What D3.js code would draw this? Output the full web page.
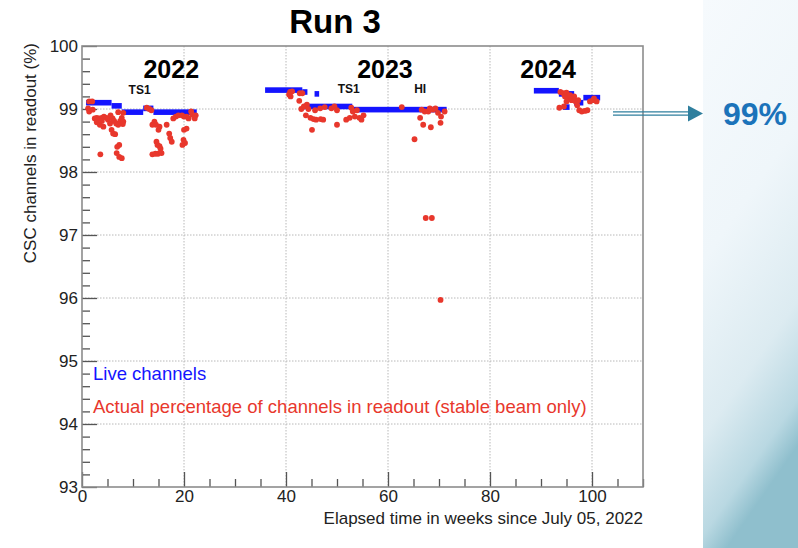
<!DOCTYPE html>
<html>
<head>
<meta charset="utf-8">
<script src="https://cdn.jsdelivr.net/npm/d3@7/dist/d3.min.js"></script>
<style>
  html, body { margin: 0; padding: 0; background: #fff; }
  svg { display: block; }
  text { font-family: "Liberation Sans", Arial, Helvetica, sans-serif; }
</style>
</head>
<body>
<svg id="chart" width="798" height="548"></svg>
<script>
// Live channel fraction: horizontal runs [start week, end week, percent]
const liveChannels = [
  [0.8, 5.8, 99.10],
  [5.8, 7.8, 99.05],
  [7.8, 12.0, 98.95],
  [12.0, 14.0, 99.01],
  [14.0, 22.5, 98.95],
  [35.9, 43.2, 99.30],
  [43.2, 44.2, 99.27],
  [45.6, 46.5, 99.24],
  [43.5, 53.0, 99.04],
  [53.0, 71.5, 98.99],
  [88.6, 93.5, 99.29],
  [93.5, 96.5, 99.24],
  [94.3, 95.6, 99.03],
  [96.5, 98.3, 99.10],
  [98.3, 101.6, 99.18]
];

// Percentage of channels in readout during stable beam: [week, percent]
const stableBeam = [
  // 2022
  [1.4, 99.12], [2.0, 99.12], [1.2, 99.01], [1.4, 98.96], [2.1, 98.99],
  [2.5, 98.85], [2.9, 98.86], [3.4, 98.85], [3.9, 98.86], [4.3, 98.88], [4.8, 98.86],
  [2.9, 98.79], [3.5, 98.75], [4.2, 98.72], [3.9, 98.81],
  [5.1, 98.83], [5.5, 98.77], [5.6, 98.90], [6.0, 98.85], [6.3, 98.81], [6.7, 98.77],
  [7.5, 98.81], [7.8, 98.86], [8.1, 98.80], [8.0, 98.76], [7.1, 98.75],
  [5.8, 98.67], [6.1, 98.61], [6.5, 98.60],
  [7.3, 98.43], [6.9, 98.40],
  [6.8, 98.30], [7.3, 98.24], [7.8, 98.22], [3.6, 98.28],
  [7.1, 98.95], [8.1, 98.94],
  [12.7, 99.02], [13.2, 99.00], [13.6, 98.98],
  [14.2, 98.80], [14.5, 98.75], [13.8, 98.75], [15.2, 98.72], [15.0, 98.67],
  [14.6, 98.48], [14.8, 98.43], [15.2, 98.41], [15.4, 98.37],
  [13.8, 98.28], [14.4, 98.29], [14.9, 98.29], [15.6, 98.30],
  [16.6, 98.75], [17.1, 98.61], [17.3, 98.54], [17.6, 98.48],
  [17.9, 98.85], [18.4, 98.88], [18.9, 98.90], [19.6, 98.90], [20.0, 98.88], [20.5, 98.88], [20.9, 98.85],
  [20.5, 98.69], [20.0, 98.67], [19.9, 98.51], [20.2, 98.46], [19.7, 98.43],
  [21.6, 98.91], [22.3, 98.90], [22.1, 98.85], [21.4, 98.96],
  // 2023
  [40.8, 99.27], [41.2, 99.28], [40.9, 99.20], [40.6, 99.23],
  [42.7, 99.25], [43.2, 99.25], [42.6, 99.13],
  [43.0, 99.00], [43.5, 99.04], [44.1, 99.07], [44.4, 99.00],
  [43.9, 98.90], [44.8, 98.86], [45.4, 98.84], [45.9, 98.83], [46.8, 98.84], [47.3, 98.83],
  [45.1, 98.67],
  [45.7, 98.98], [46.7, 99.01], [47.6, 99.03], [48.9, 99.01], [49.5, 99.04], [50.0, 98.98],
  [50.0, 98.75],
  [51.8, 98.83], [52.5, 98.86], [53.1, 98.96], [53.5, 98.88], [53.9, 98.98], [54.4, 98.86],
  [54.8, 98.83], [55.2, 98.90], [52.8, 99.02],
  [62.7, 99.03], [65.2, 98.52],
  [66.3, 98.86], [66.9, 98.75], [67.2, 98.96], [67.9, 98.96], [68.4, 98.71], [68.8, 98.99],
  [69.3, 99.01], [69.8, 98.94], [70.4, 98.88], [70.3, 98.78], [71.1, 98.96],
  [66.6, 98.99], [68.2, 99.01],
  [67.4, 97.27], [68.6, 97.27], [70.3, 95.97],
  // 2024
  [93.8, 99.27], [94.4, 99.25], [95.0, 99.26], [94.7, 99.20], [95.4, 99.17], [95.0, 99.12],
  [95.7, 99.22], [96.0, 99.14], [96.5, 99.20], [96.8, 99.12], [97.1, 99.06], [97.5, 98.98],
  [98.0, 98.96], [98.6, 98.97], [99.1, 98.98], [97.3, 99.14], [93.6, 99.02], [94.5, 99.04],
  [99.6, 99.12], [100.2, 99.14], [100.4, 99.17], [100.9, 99.12]
];

// Axis ticks
const xMajorTicks = [0, 20, 40, 60, 80, 100];
const xMinorTicks = d3.range(0, 111, 5).filter(v => v % 20 !== 0);
const yMajorTicks = [93, 94, 95, 96, 97, 98, 99, 100];
const yMinorTicks = d3.range(93, 100.01, 0.2).map(v => +v.toFixed(1)).filter(v => Math.abs(v - Math.round(v)) > 1e-6);

// Period annotations placed in data coordinates
const yearLabels = [
  { text: "2022", week: 17.5, pct: 99.49 },
  { text: "2023", week: 59.4, pct: 99.49 },
  { text: "2024", week: 91.4, pct: 99.49 }
];
const stopLabels = [
  { text: "TS1", week: 11.3, pct: 99.24 },
  { text: "TS1", week: 52.3, pct: 99.25 },
  { text: "HI", week: 66.3, pct: 99.25 }
];

const legendItems = [
  { text: "Live channels", color: "#1414ff" },
  { text: "Actual percentage of channels in readout (stable beam only)", color: "#e8372c" }
];

const svg = d3.select("#chart");
const W = 798, H = 548;

// Side panel with soft gradient
const defs = svg.append("defs");
const grad = defs.append("linearGradient").attr("id", "panelGrad")
  .attr("x1", "0").attr("y1", "0").attr("x2", "0.25").attr("y2", "1");
grad.append("stop").attr("offset", "0%").attr("stop-color", "#f6fafd");
grad.append("stop").attr("offset", "45%").attr("stop-color", "#eff6fa");
grad.append("stop").attr("offset", "75%").attr("stop-color", "#dcebf1");
grad.append("stop").attr("offset", "92%").attr("stop-color", "#b9d8e2");
grad.append("stop").attr("offset", "100%").attr("stop-color", "#8fbfcd");
svg.append("rect").attr("x", 703).attr("y", 0).attr("width", W - 703).attr("height", H)
  .attr("fill", "url(#panelGrad)");

const margin = { left: 82, right: 643, top: 46, bottom: 487 };
const x = d3.scaleLinear().domain([0, 110]).range([margin.left, margin.right]);
const y = d3.scaleLinear().domain([93, 100]).range([margin.bottom, margin.top]);

// Plot background
svg.append("rect").attr("x", margin.left).attr("y", margin.top)
  .attr("width", margin.right - margin.left).attr("height", margin.bottom - margin.top)
  .attr("fill", "#fff");

// Dotted grid
const grid = svg.append("g").attr("stroke", "#b8b8b8").attr("stroke-width", 1)
  .attr("stroke-dasharray", "1.5,1.5");
grid.selectAll(".gx").data(xMajorTicks.filter(v => v > 0)).join("line")
  .attr("x1", d => x(d)).attr("x2", d => x(d))
  .attr("y1", margin.top).attr("y2", margin.bottom);
grid.selectAll(".gy").data(yMajorTicks.filter(v => v > 93 && v < 100)).join("line")
  .attr("x1", margin.left).attr("x2", margin.right)
  .attr("y1", d => y(d)).attr("y2", d => y(d));

// Axes: major ticks with labels, minor ticks without
const tickColor = "#555";
const yAxis = svg.append("g").attr("transform", `translate(${margin.left},0)`)
  .call(d3.axisLeft(y).tickValues(yMajorTicks).tickFormat(d3.format("d"))
    .tickSizeInner(-15).tickSizeOuter(0).tickPadding(4));
yAxis.select(".domain").remove();
yAxis.selectAll("line").attr("stroke", tickColor).attr("stroke-width", 1.3);
yAxis.selectAll("text").attr("font-size", 17).attr("fill", "#222");

const yMinor = svg.append("g").attr("transform", `translate(${margin.left},0)`)
  .call(d3.axisLeft(y).tickValues(yMinorTicks).tickFormat("").tickSizeInner(-8).tickSizeOuter(0));
yMinor.select(".domain").remove();
yMinor.selectAll("line").attr("stroke", tickColor).attr("stroke-width", 1.3);

const xAxis = svg.append("g").attr("transform", `translate(0,${margin.bottom})`)
  .call(d3.axisBottom(x).tickValues(xMajorTicks).tickFormat(d3.format("d"))
    .tickSizeInner(-15).tickSizeOuter(0).tickPadding(3));
xAxis.select(".domain").remove();
xAxis.selectAll("line").attr("stroke", tickColor).attr("stroke-width", 1.3);
xAxis.selectAll("text").attr("font-size", 17).attr("fill", "#222");

const xMinor = svg.append("g").attr("transform", `translate(0,${margin.bottom})`)
  .call(d3.axisBottom(x).tickValues(xMinorTicks).tickFormat("").tickSizeInner(-8).tickSizeOuter(0));
xMinor.select(".domain").remove();
xMinor.selectAll("line").attr("stroke", tickColor).attr("stroke-width", 1.3);

// Frame
svg.append("rect").attr("x", margin.left).attr("y", margin.top)
  .attr("width", margin.right - margin.left).attr("height", margin.bottom - margin.top)
  .attr("fill", "none").attr("stroke", "#8c8c8c").attr("stroke-width", 1.6);

// Live channels (blue bands)
svg.append("g").selectAll("rect").data(liveChannels).join("rect")
  .attr("x", d => x(d[0])).attr("width", d => x(d[1]) - x(d[0]))
  .attr("y", d => y(d[2]) - 2.8).attr("height", 5.6)
  .attr("fill", legendItems[0].color);

// Stable-beam readout points (red)
svg.append("g").selectAll("circle").data(stableBeam).join("circle")
  .attr("cx", d => x(d[0])).attr("cy", d => y(d[1])).attr("r", 2.9)
  .attr("fill", legendItems[1].color);

// Year and stop annotations
svg.append("g").selectAll("text").data(yearLabels).join("text")
  .attr("x", d => x(d.week)).attr("y", d => y(d.pct))
  .attr("text-anchor", "middle").attr("font-size", 25).attr("font-weight", "bold")
  .attr("fill", "#000").text(d => d.text);
svg.append("g").selectAll("text").data(stopLabels).join("text")
  .attr("x", d => x(d.week)).attr("y", d => y(d.pct))
  .attr("text-anchor", "middle").attr("font-size", 12).attr("font-weight", "bold")
  .attr("fill", "#111").text(d => d.text);

// Legend text
svg.append("g").selectAll("text").data(legendItems).join("text")
  .attr("x", 93).attr("y", (d, i) => 380 + i * 33)
  .attr("font-size", 18.5).attr("fill", d => d.color).text(d => d.text);

// Title and axis titles
svg.append("text").attr("x", 335).attr("y", 33).attr("text-anchor", "middle")
  .attr("font-size", 33).attr("font-weight", "bold").attr("fill", "#000").text("Run 3");
svg.append("text").attr("x", margin.right).attr("y", 524).attr("text-anchor", "end")
  .attr("font-size", 17).attr("fill", "#222").text("Elapsed time in weeks since July 05, 2022");
svg.append("text").attr("transform", `translate(36,${margin.top - 3}) rotate(-90)`)
  .attr("text-anchor", "end").attr("font-size", 17).attr("fill", "#222")
  .text("CSC channels in readout (%)");

// Arrow pointing to the summary figure
const arrowColor = "#2f7f9e";
const ay = 113.5;
svg.append("line").attr("x1", 613).attr("x2", 690).attr("y1", ay - 1.6).attr("y2", ay - 1.6)
  .attr("stroke", arrowColor).attr("stroke-width", 1.2);
svg.append("line").attr("x1", 613).attr("x2", 690).attr("y1", ay + 1.6).attr("y2", ay + 1.6)
  .attr("stroke", arrowColor).attr("stroke-width", 1.2);
svg.append("path").attr("d", `M688,${ay - 8} L703,${ay} L688,${ay + 8} Z`).attr("fill", arrowColor);

svg.append("text").attr("x", 755).attr("y", 125).attr("text-anchor", "middle")
  .attr("font-family", "'Open Sans', 'Noto Sans', sans-serif")
  .attr("font-size", 32).attr("font-weight", "bold").attr("fill", "#1b73ba").text("99%");
</script>
</body>
</html>
